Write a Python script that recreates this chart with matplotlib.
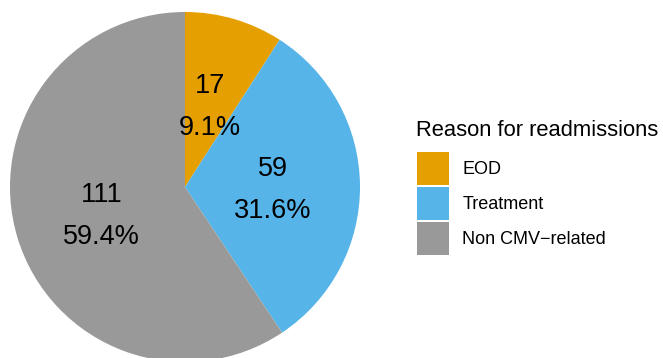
import matplotlib.pyplot as plt
from matplotlib.patches import Patch

plt.rcParams['font.family'] = ['Liberation Sans', 'DejaVu Sans']

reasons = ['EOD', 'Treatment', 'Non CMV\u2212related']
counts = [17, 59, 111]
colors = ['#E69F00', '#56B4E9', '#999999']

total = sum(counts)

fig = plt.figure(figsize=(6.63, 3.58), dpi=100)
# pie axes: centre at (185, 187) px from top-left, radius 175 px
W, H = 663, 358
cx, cy, r = 185, 187, 175
ax = fig.add_axes([(cx - r) / W, (H - cy - r) / H, 2 * r / W, 2 * r / H])

wedges, texts, autotexts = ax.pie(
    counts, colors=colors, startangle=90, counterclock=False,
    autopct=lambda p: '{:d}\n{:.1f}%'.format(int(round(p * total / 100)), p),
    pctdistance=0.5, wedgeprops=dict(linewidth=0),
    textprops=dict(fontsize=19.5, color='black', linespacing=1.8))
for w in wedges:
    w.set_clip_on(False)
# nudge labels down a few pixels
for t in autotexts:
    x, y = t.get_position()
    t.set_position((x, y - 0.023))
ax.set_xlim(-1, 1)
ax.set_ylim(-1, 1)
ax.set_aspect('equal')

# legend title drawn separately to get the ggplot-style gap
fig.text(416 / W, 1 - 136 / H, 'Reason for readmissions', fontsize=15.8,
         ha='left', va='baseline')
handles = [Patch(facecolor=c, edgecolor='none') for c in colors]
leg = fig.legend(handles, reasons,
                 loc='upper left', bbox_to_anchor=(417 / W, 1 - 152 / H),
                 frameon=False, fontsize=13,
                 handlelength=1.78, handleheight=2.44, labelspacing=0.11,
                 handletextpad=0.72, borderpad=0, borderaxespad=0)

fig.savefig('out.png', dpi=100)
